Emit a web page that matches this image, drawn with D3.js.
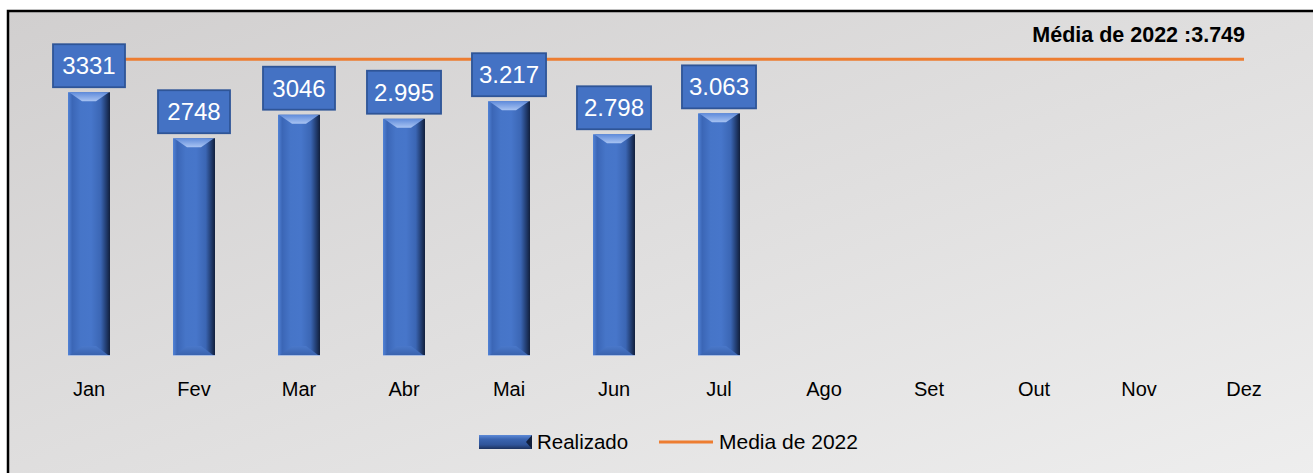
<!DOCTYPE html>
<html>
<head>
<meta charset="utf-8">
<script src="https://cdn.jsdelivr.net/npm/d3@7"></script>
<style>
html,body{margin:0;padding:0;background:#fff;}
svg{display:block;}
</style>
</head>
<body>
<script>
const months = ["Jan","Fev","Mar","Abr","Mai","Jun","Jul","Ago","Set","Out","Nov","Dez"];
const realizado = [3331, 2748, 3046, 2995, 3217, 2798, 3063];
const realizadoLabels = ["3331","2748","3046","2.995","3.217","2.798","3.063"];
const mediaValue = 3749;
const mediaSeries = months.map(() => mediaValue);
const titleText = "Média de 2022 :3.749";
const legendLabels = ["Realizado", "Media de 2022"];

const W = 1313, H = 473;
const svg = d3.select("body").append("svg").attr("width", W).attr("height", H);
const defs = svg.append("defs");

const bg = defs.append("linearGradient").attr("id","bg").attr("x1","0").attr("y1","0").attr("x2","1").attr("y2","1");
bg.append("stop").attr("offset","0").attr("stop-color","#d1cfcf");
bg.append("stop").attr("offset","1").attr("stop-color","#efefef");

const barG = defs.append("linearGradient").attr("id","barH").attr("x1","0").attr("x2","1").attr("y1","0").attr("y2","0");
[[0,"#5283d6"],[0.1,"#3b66b6"],[0.3,"#4675c8"],[0.55,"#4776ca"],[0.78,"#3b66b4"],[0.9,"#233f74"],[1,"#111f3c"]]
  .forEach(([o,c]) => barG.append("stop").attr("offset",o).attr("stop-color",c));
const topG = defs.append("linearGradient").attr("id","barTop").attr("x1","0").attr("x2","0").attr("y1","0").attr("y2","1");
topG.append("stop").attr("offset","0").attr("stop-color","#5f8bdb");
topG.append("stop").attr("offset","1").attr("stop-color","#a8c3f2");
const botG = defs.append("linearGradient").attr("id","barBot").attr("x1","0").attr("x2","0").attr("y1","0").attr("y2","1");
botG.append("stop").attr("offset","0").attr("stop-color","#4a78ca");
botG.append("stop").attr("offset","1").attr("stop-color","#3a63ae");
const legG = defs.append("linearGradient").attr("id","legBar").attr("x1","0").attr("x2","0").attr("y1","0").attr("y2","1");
[[0,"#5d8ad8"],[0.3,"#3a64b0"],[0.7,"#2f5499"],[1,"#1c325e"]].forEach(([o,c]) => legG.append("stop").attr("offset",o).attr("stop-color",c));

// frame
svg.append("rect").attr("x",8).attr("y",11).attr("width",W+20).attr("height",H+20)
  .attr("fill","url(#bg)").attr("stroke","#000").attr("stroke-width",2.5);

const x = d3.scaleBand().domain(months).range([36.5, 1296.5]).paddingInner(0.6).paddingOuter(0.3);
const y = d3.scaleLinear().domain([0, 4500]).range([355, 0]);
const font = "'Liberation Sans', Arial, sans-serif";

// axis
const axis = svg.append("g").attr("transform", `translate(0,${y(0)})`)
  .call(d3.axisBottom(x).tickSize(0).tickPadding(27));
axis.select(".domain").remove();
axis.selectAll("text").attr("font-family", font).attr("font-size", 20).attr("fill", "#000");

// mean line
const line = d3.line().x(d => x(d.m) + x.bandwidth()/2).y(d => y(d.v));
svg.append("path").datum(months.map((m,i) => ({m, v: mediaSeries[i]})))
  .attr("d", line).attr("fill","none").attr("stroke","#ed7d31").attr("stroke-width",3.2);

// bars
const data = realizado.map((v,i) => ({m: months[i], v, label: realizadoLabels[i]}));
const bars = svg.append("g").selectAll("g").data(data).join("g");
const bw = x.bandwidth();
bars.append("rect")
  .attr("x", d => x(d.m)).attr("y", d => y(d.v))
  .attr("width", bw).attr("height", d => y(0) - y(d.v))
  .attr("fill", "url(#barH)");
const bev = 9, inset = 14;
bars.append("path").attr("fill","url(#barTop)")
  .attr("d", d => {
    const x0 = x(d.m), x1 = x0 + bw, t = y(d.v);
    return `M${x0+1},${t}L${x1-1},${t}L${x1-inset},${t+bev}L${x0+inset},${t+bev}Z`;
  });
bars.append("path").attr("fill","url(#barBot)")
  .attr("d", d => {
    const x0 = x(d.m), x1 = x0 + bw, b = y(0);
    return `M${x0+2},${b}L${x1-2},${b}L${x1-inset},${b-bev}L${x0+inset},${b-bev}Z`;
  });
bars.append("line")
  .attr("x1", d => x(d.m)).attr("x2", d => x(d.m)+bw)
  .attr("y1", y(0)+0.5).attr("y2", y(0)+0.5).attr("stroke","#a9bde3").attr("stroke-width",1);

// labels
const lab = svg.append("g").selectAll("g").data(data).join("g");
const lblRect = lab.append("rect");
const lblText = lab.append("text")
  .attr("x", d => x(d.m) + bw/2)
  .attr("y", d => y(d.v) - 5 - 21.5)
  .attr("dy", "0.35em")
  .attr("text-anchor","middle")
  .attr("font-family", font).attr("font-size", 24).attr("fill","#fff")
  .text(d => d.label);
lblText.each(function(d){
  const w = Math.max(72, this.getComputedTextLength() + 14);
  d3.select(this.parentNode).select("rect")
    .attr("x", x(d.m) + bw/2 - w/2).attr("y", y(d.v) - 5 - 43)
    .attr("width", w).attr("height", 43)
    .attr("fill","#4472c4").attr("stroke","#2f5597").attr("stroke-width",1.8);
});

// title
svg.append("text").attr("x", 1245).attr("y", 42).attr("text-anchor","end")
  .attr("font-family", font).attr("font-weight","bold").attr("font-size", 21.5).attr("fill","#000")
  .text(titleText);

// legend
const lg = svg.append("g");
lg.append("rect").attr("x",479).attr("y",435).attr("width",53).attr("height",14).attr("fill","url(#legBar)");
lg.append("path").attr("d","M532,435L532,449L526,442Z").attr("fill","#111f3c");
lg.append("text").attr("x",537).attr("y",449).attr("font-family",font).attr("font-size",20.5).attr("fill","#000").text(legendLabels[0]);
lg.append("line").attr("x1",659).attr("x2",713).attr("y1",442).attr("y2",442).attr("stroke","#ed7d31").attr("stroke-width",3.2);
lg.append("text").attr("x",719).attr("y",449).attr("font-family",font).attr("font-size",21).attr("fill","#000").text(legendLabels[1]);
</script>
</body>
</html>
